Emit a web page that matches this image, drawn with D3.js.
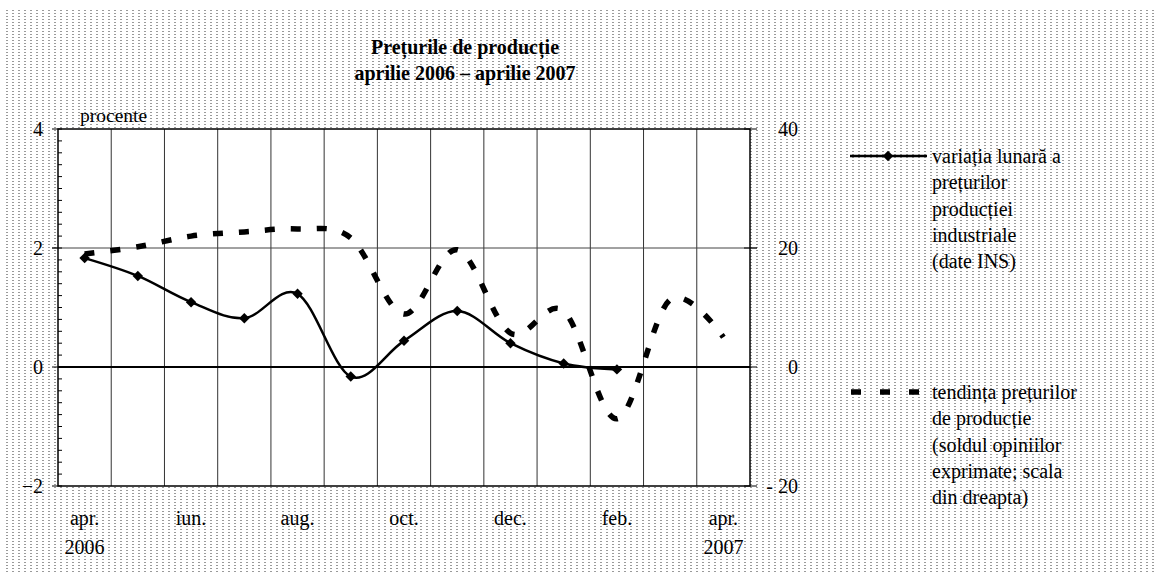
<!DOCTYPE html>
<html lang="ro">
<head>
<meta charset="utf-8">
<title>Prețurile de producție</title>
<script src="https://d3js.org/d3.v7.min.js"></script>
<style>
  body { margin: 0; background: #fff; }
  svg text { font-family: "Liberation Serif", "Times New Roman", serif; fill: #000; }
</style>
</head>
<body>
<div id="chart"></div>
<script>
// categories: apr. 2006 ... apr. 2007
const months = ["apr. 2006","mai 2006","iun. 2006","iul. 2006","aug. 2006","sep. 2006","oct. 2006",
                "nov. 2006","dec. 2006","ian. 2007","feb. 2007","mar. 2007","apr. 2007"];
// label shown under every other category (two lines)
const tickLabels = {"apr. 2006":["apr.","2006"],"iun. 2006":["iun."],"aug. 2006":["aug."],
                    "oct. 2006":["oct."],"dec. 2006":["dec."],"feb. 2007":["feb."],"apr. 2007":["apr.","2007"]};
// monthly variation of industrial producer prices (left scale, %)
const variatia = [1.83, 1.53, 1.09, 0.82, 1.23, -0.16, 0.44, 0.94, 0.40, 0.06, -0.04];
// price trend, balance of opinions (right scale)
const tendinta = [19.0, 20.2, 22.0, 22.7, 23.2, 21.7, 8.9, 19.7, 5.7, 9.4, -8.7, 11.3, 5.0];

const leftTicks = [4, 2, 0, -2];
const rightTicks = [40, 20, 0, -20];

const W = 1164, H = 578;
const margin = {left: 58, right: 414, top: 129, bottom: 92};
const fs = "20px";

const svg = d3.select("#chart").append("svg")
  .attr("width", W).attr("height", H);

// dotted background like the source
const defs = svg.append("defs");
const pat = defs.append("pattern").attr("id", "dots")
  .attr("patternUnits", "userSpaceOnUse").attr("width", 6).attr("height", 3);
pat.append("rect").attr("width", 6).attr("height", 3).attr("fill", "#fff");
pat.append("rect").attr("x", 0).attr("y", 1).attr("width", 2).attr("height", 1).attr("fill", "#9a9a9a");
svg.append("rect").attr("x", 4).attr("y", 8).attr("width", 1154).attr("height", 564).attr("fill", "url(#dots)");

const x = d3.scaleBand().domain(months).range([margin.left, W - margin.right]);
const y = d3.scaleLinear().domain([-2, 4]).range([H - margin.bottom, margin.top]);
const y2 = d3.scaleLinear().domain([-20, 40]).range([H - margin.bottom, margin.top]);
const cx = d => x(d) + x.bandwidth() / 2;

// plot area
svg.append("rect")
  .attr("x", margin.left).attr("y", margin.top)
  .attr("width", W - margin.left - margin.right).attr("height", H - margin.top - margin.bottom)
  .attr("fill", "#fff");

// vertical gridlines between categories
svg.append("g").selectAll("line").data(months.slice(1)).join("line")
  .attr("x1", d => x(d)).attr("x2", d => x(d))
  .attr("y1", margin.top).attr("y2", H - margin.bottom)
  .attr("stroke", "#333").attr("stroke-width", 1);

// horizontal gridline at 2
svg.append("line")
  .attr("x1", margin.left - 6).attr("x2", W - margin.right + 7)
  .attr("y1", y(2)).attr("y2", y(2))
  .attr("stroke", "#444").attr("stroke-width", 1);

// left axis minor ticks (inside)
svg.append("g").selectAll("line").data(d3.range(-2, 4.001, 0.2)).join("line")
  .attr("x1", margin.left).attr("x2", margin.left + 4)
  .attr("y1", d => y(d)).attr("y2", d => y(d))
  .attr("stroke", "#000");

// left axis major ticks
svg.append("g").selectAll("line").data(leftTicks).join("line")
  .attr("x1", margin.left - 6).attr("x2", margin.left)
  .attr("y1", d => y(d)).attr("y2", d => y(d))
  .attr("stroke", "#000");

// right axis major ticks
svg.append("g").selectAll("line").data(rightTicks).join("line")
  .attr("x1", W - margin.right - 6).attr("x2", W - margin.right + 7)
  .attr("y1", d => y2(d)).attr("y2", d => y2(d))
  .attr("stroke", "#000");

// frame
svg.append("rect")
  .attr("x", margin.left).attr("y", margin.top)
  .attr("width", W - margin.left - margin.right).attr("height", H - margin.top - margin.bottom)
  .attr("fill", "none").attr("stroke", "#000").attr("stroke-width", 1.5);

// zero line
svg.append("line")
  .attr("x1", margin.left).attr("x2", W - margin.right)
  .attr("y1", y(0)).attr("y2", y(0))
  .attr("stroke", "#000").attr("stroke-width", 2.2);

// left tick labels
svg.append("g").selectAll("text").data(leftTicks).join("text")
  .attr("x", 43).attr("y", d => y(d)).attr("dy", "0.35em")
  .attr("text-anchor", "end").style("font-size", fs)
  .text(d => d < 0 ? "\u2212" + Math.abs(d) : d);

// right tick labels
svg.append("g").selectAll("text").data(rightTicks).join("text")
  .attr("x", 798).attr("y", d => y2(d)).attr("dy", "0.35em")
  .attr("text-anchor", "end").style("font-size", fs)
  .text(d => d < 0 ? "- " + Math.abs(d) : d);

// x labels
const xl = svg.append("g").selectAll("text").data(months.filter(m => tickLabels[m])).join("text")
  .attr("x", d => cx(d)).attr("text-anchor", "middle").style("font-size", fs);
xl.selectAll("tspan").data(d => tickLabels[d].map(t => [d, t])).join("tspan")
  .attr("x", d => cx(d[0])).attr("y", (d, i) => 525 + i * 29)
  .text(d => d[1]);

// unit label
svg.append("text").attr("x", 80).attr("y", 122).style("font-size", "19.5px").text("procente");

// title
svg.append("text").attr("x", 465).attr("y", 54).attr("text-anchor", "middle")
  .style("font-size", fs).style("font-weight", "bold").text("Prețurile de producție");
svg.append("text").attr("x", 465).attr("y", 80).attr("text-anchor", "middle")
  .style("font-size", fs).style("font-weight", "bold").text("aprilie 2006 – aprilie 2007");

// dashed series (right scale)
const lineT = d3.line().curve(d3.curveCardinal.tension(0))
  .x((d, i) => cx(months[i])).y(d => y2(d));
svg.append("path").datum(tendinta)
  .attr("d", lineT).attr("fill", "none")
  .attr("stroke", "#000").attr("stroke-width", 5.5)
  .attr("stroke-dasharray", "10,16");

// solid series (left scale)
const lineV = d3.line().curve(d3.curveCardinal.tension(0))
  .x((d, i) => cx(months[i])).y(d => y(d));
svg.append("path").datum(variatia)
  .attr("d", lineV).attr("fill", "none")
  .attr("stroke", "#000").attr("stroke-width", 2.5);

const diamond = d3.symbol().type(d3.symbolDiamond2).size(70);
svg.append("g").selectAll("path").data(variatia).join("path")
  .attr("d", diamond)
  .attr("transform", (d, i) => `translate(${cx(months[i])},${y(d)})`)
  .attr("fill", "#000");

// legend
const leg1 = ["variația lunară a", "prețurilor", "producției", "industriale", "(date INS)"];
const leg2 = ["tendința prețurilor", "de producție", "(soldul opiniilor", "exprimate; scala", "din dreapta)"];

svg.append("line").attr("x1", 850).attr("x2", 927).attr("y1", 156).attr("y2", 156)
  .attr("stroke", "#000").attr("stroke-width", 2.5);
svg.append("path").attr("d", diamond).attr("transform", "translate(888,156)").attr("fill", "#000");
svg.append("g").selectAll("text").data(leg1).join("text")
  .attr("x", 932).attr("y", (d, i) => 163 + i * 26.3)
  .style("font-size", fs).text(d => d);

svg.append("line").attr("x1", 851).attr("x2", 920).attr("y1", 392).attr("y2", 392)
  .attr("stroke", "#000").attr("stroke-width", 5.5).attr("stroke-dasharray", "10,19");
svg.append("g").selectAll("text").data(leg2).join("text")
  .attr("x", 932).attr("y", (d, i) => 399 + i * 26.3)
  .style("font-size", fs).text(d => d);
</script>
</body>
</html>
